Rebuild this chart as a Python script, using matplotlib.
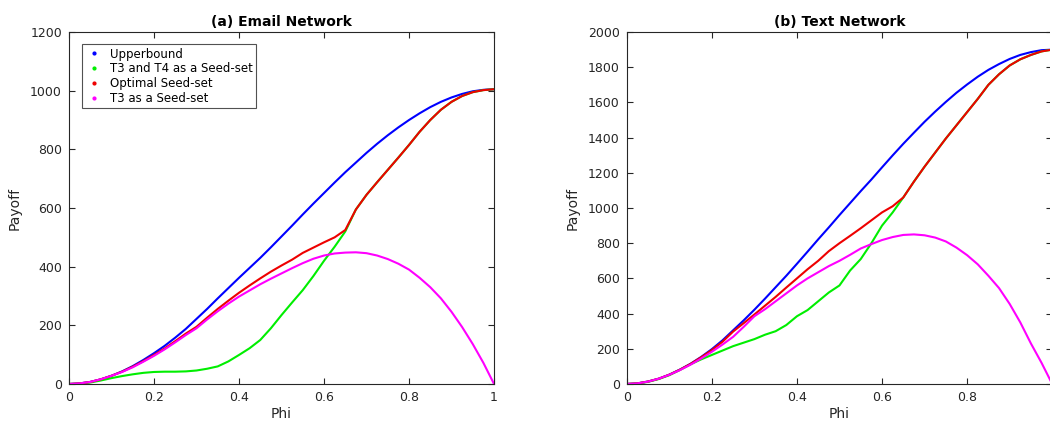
import matplotlib
matplotlib.use('Agg')
import matplotlib.pyplot as plt
from matplotlib.lines import Line2D
import numpy as np

PHI=[0,.025,.05,.075,.1,.125,.15,.175,.2,.225,.25,.275,.3,.325,.35,.375,.4,.425,.45,.475,.5,
     .525,.55,.575,.6,.625,.65,.675,.7,.725,.75,.775,.8,.825,.85,.875,.9,.925,.95,.975,1]
LABELS=['Upperbound','T3 and T4 as a Seed-set','Optimal Seed-set','T3 as a Seed-set']
COLORS=['#0000ff','#00ee00','#ee0000','#ff00ff']
XTICKS=[0,.2,.4,.6,.8,1]

#(a) Email network.
email_upper=[0,2,7,16,28,43,61,82,105,130,158,188,222,256,292,327,362,396,430,466,503,
             540,578,615,651,687,722,755,788,819,848,875,900,923,944,962,977,989,998,1003,1005]
email_t3t4=[0,1,5,12,20,27,33,38,41,42,42,43,46,52,60,77,99,122,150,190,235,
            278,320,368,420,468,520,595,645,688,730,772,815,860,900,935,962,982,995,1002,1005]
email_opt=[0,2,7,16,28,42,59,78,99,121,146,172,195,226,256,284,311,336,360,383,404,
           424,447,465,483,500,525,595,645,688,730,772,815,860,900,935,962,982,995,1002,1005]
email_t3=[0,2,7,16,28,41,57,76,96,118,142,167,190,220,248,274,298,319,340,359,377,
          395,412,427,438,445,448,449,446,438,426,410,390,362,330,292,246,194,136,72,0]

#(b) Text network.
text_upper=[0,3.5,14,30,53,82,115,154,198,248,305,362,422,485,550,615,683,752,822,890,960,
            1028,1096,1162,1231,1299,1365,1428,1490,1548,1603,1655,1702,1746,1785,1818,1847,1870,1886,1897,1900]
text_t3t4=[0,3,12,28,50,80,112,140,165,190,215,235,255,280,300,335,385,420,470,520,560,
           645,710,800,900,975,1060,1150,1235,1315,1395,1470,1545,1620,1700,1760,1810,1845,1870,1890,1900]
text_opt=[0,3.5,14,30,53,81,114,152,193,240,298,346,395,445,495,548,600,652,700,755,800,
          842,885,930,975,1010,1060,1150,1235,1315,1395,1470,1545,1620,1700,1760,1810,1845,1870,1890,1900]
text_t3=[0,3.5,13.5,30,52,79,110,145,183,224,268,325,385,425,470,515,560,600,635,670,700,
         734,770,795,818,835,847,850,845,832,810,775,732,680,615,545,455,350,230,120,0]

TXT='#262626'
plt.rcParams['font.family']='DejaVu Sans'

def _style(ax,title,ymax,ystep,xlabels):
    ax.set_xlim(0,1)
    ax.set_ylim(0,ymax)
    ax.set_xticks(XTICKS)
    ax.set_xticklabels(xlabels)
    ax.set_yticks(np.arange(0,ymax+1,ystep))
    ax.tick_params(direction='in',length=4,width=0.8,colors=TXT,labelsize=9,
                   top=True,right=True,pad=5)
    for s in ax.spines.values():
        s.set_color(TXT)
        s.set_linewidth(0.8)
    ax.set_title(title,fontsize=10,fontweight='bold',color='black',pad=4)
    ax.set_xlabel('Phi',fontsize=10,color=TXT,labelpad=2)
    ax.set_ylabel('Payoff',fontsize=10,color=TXT,labelpad=6)

def _plot_series(ax,series):
    for vals,c in zip(series,COLORS):
        ax.plot(PHI,vals,'-',color=c,lw=1.5,solid_capstyle='round')

fig=plt.figure(figsize=(10.5,4.21),dpi=100)
ax1=fig.add_axes([0.0657,0.0879,0.4048,0.836])
ax2=fig.add_axes([0.5969,0.0879,0.4052,0.836])

_plot_series(ax1,[email_upper,email_t3t4,email_opt,email_t3])
_plot_series(ax2,[text_upper,text_t3t4,text_opt,text_t3])
_style(ax1,'(a) Email Network',1200,200,['0','0.2','0.4','0.6','0.8','1'])
#The right panel is cropped at the figure edge, so its last label is not shown.
_style(ax2,'(b) Text Network',2000,200,['0','0.2','0.4','0.6','0.8',''])

handles=[Line2D([],[],ls='none',marker='.',ms=4,color=c) for c in COLORS]
leg=ax1.legend(handles,LABELS,loc='upper left',bbox_to_anchor=(0.03,0.966),fontsize=8.5,
               frameon=True,fancybox=False,edgecolor=TXT,handlelength=1.5,borderaxespad=0,
               handletextpad=0.6,borderpad=0.3,labelspacing=0.15)
leg.get_frame().set_linewidth(0.8)

plt.savefig('out.png',dpi=100,facecolor='white')
plt.close()
